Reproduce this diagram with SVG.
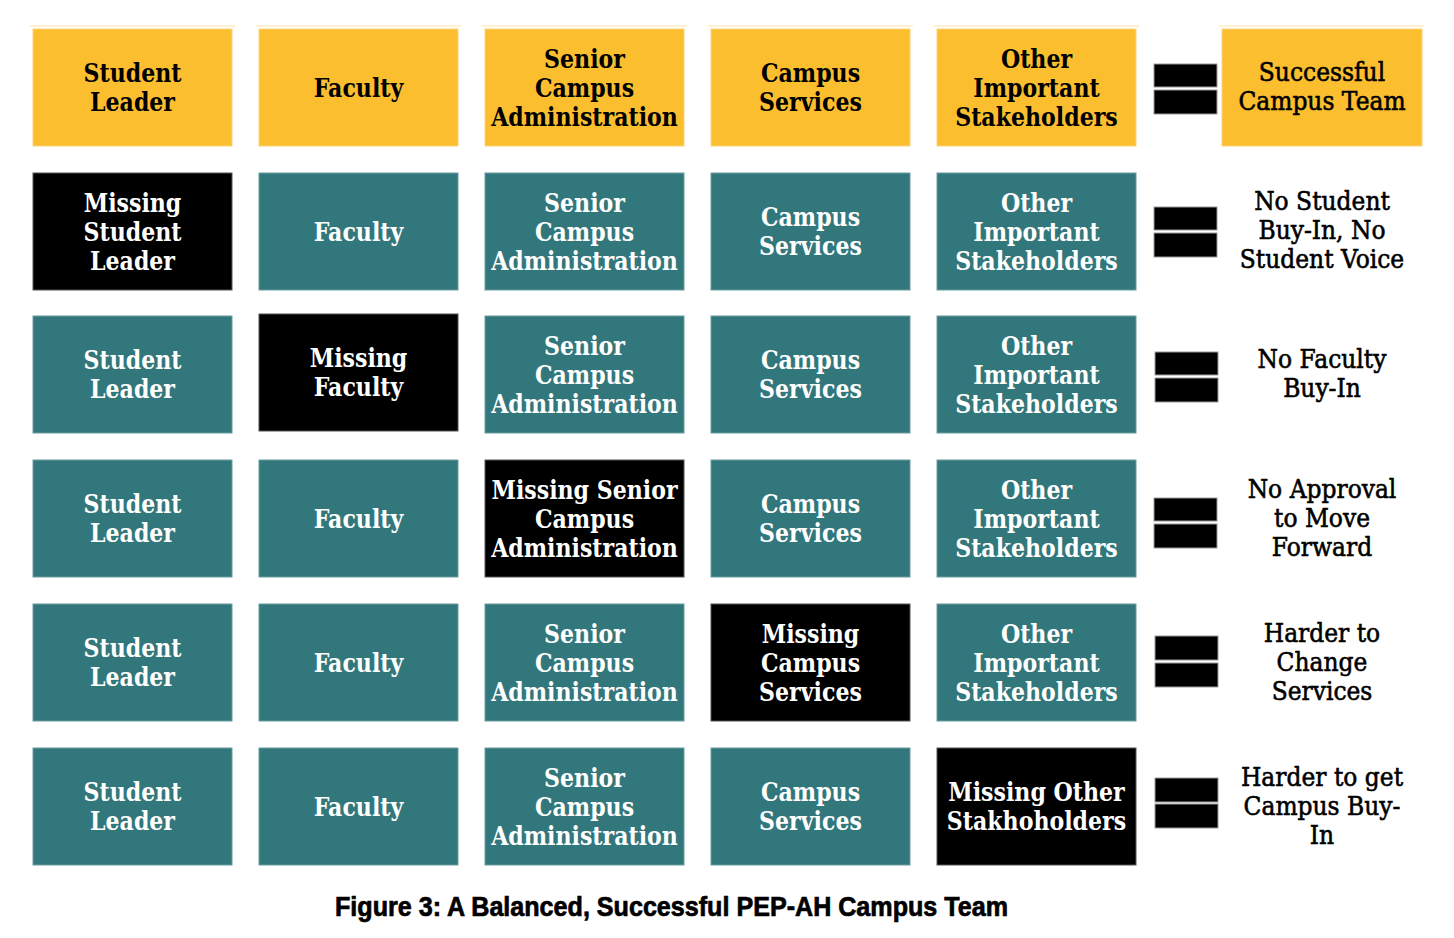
<svg xmlns="http://www.w3.org/2000/svg" width="1454" height="938" viewBox="0 0 1454 938">
<style>
.bg{fill:#ffffff}
.y{fill:#FBBE2F;stroke:#FCD47A;stroke-width:1}
.t{fill:#32777C;stroke:#6A9DA1;stroke-width:1}
.k{fill:#000000;stroke:#555555;stroke-width:1}
.eq{fill:#000000;stroke:#9a9a9a;stroke-width:1}
.topline{stroke:#FDF1D2;stroke-width:2}
.lb{font-family:"DejaVu Serif","Liberation Serif",serif;font-weight:bold;font-size:26px;text-anchor:middle}
.lbw{fill:#ffffff}
.lbk{fill:#000000}
.rl{font-family:"DejaVu Serif","Liberation Serif",serif;font-size:26px;text-anchor:middle;fill:#000000;stroke:#000000;stroke-width:0.6}
.cap{font-family:"Liberation Sans Narrow","Liberation Sans",Arial,sans-serif;font-weight:bold;font-size:27px;fill:#000000;stroke:#000000;stroke-width:0.7}
</style>
<rect class="bg" x="0" y="0" width="1454" height="938"/>
<g id="toplines">
<line class="topline" x1="30" y1="26" x2="235" y2="26"/>
<line class="topline" x1="256" y1="26" x2="461" y2="26"/>
<line class="topline" x1="482" y1="26" x2="687" y2="26"/>
<line class="topline" x1="708" y1="26" x2="913" y2="26"/>
<line class="topline" x1="934" y1="26" x2="1139" y2="26"/>
<line class="topline" x1="1219" y1="26" x2="1424" y2="26"/>
</g>

<!-- Row 1 -->
<g id="r1c1"><rect class="y" x="33" y="29" width="199" height="117"/>
<text class="lb lbk" transform="translate(132.5 0) scale(0.85 1)"><tspan x="0" y="82.5">Student</tspan><tspan x="0" y="111.5">Leader</tspan></text></g>
<g id="r1c2"><rect class="y" x="259" y="29" width="199" height="117"/>
<text class="lb lbk" transform="translate(358.5 0) scale(0.85 1)"><tspan x="0" y="97">Faculty</tspan></text></g>
<g id="r1c3"><rect class="y" x="485" y="29" width="199" height="117"/>
<text class="lb lbk" transform="translate(584.5 0) scale(0.85 1)"><tspan x="0" y="68">Senior</tspan><tspan x="0" y="97">Campus</tspan><tspan x="0" y="126">Administration</tspan></text></g>
<g id="r1c4"><rect class="y" x="711" y="29" width="199" height="117"/>
<text class="lb lbk" transform="translate(810.5 0) scale(0.85 1)"><tspan x="0" y="82.5">Campus</tspan><tspan x="0" y="111.5">Services</tspan></text></g>
<g id="r1c5"><rect class="y" x="937" y="29" width="199" height="117"/>
<text class="lb lbk" transform="translate(1036.5 0) scale(0.85 1)"><tspan x="0" y="68">Other</tspan><tspan x="0" y="97">Important</tspan><tspan x="0" y="126">Stakeholders</tspan></text></g>
<g id="r1res"><rect class="y" x="1222" y="29" width="200" height="117"/>
<text class="rl" transform="translate(1322 0) scale(0.9 1)"><tspan x="0" y="81">Successful</tspan><tspan x="0" y="110">Campus Team</tspan></text></g>

<!-- Row 2 -->
<g id="r2c1"><rect class="k" x="33" y="173" width="199" height="117"/>
<text class="lb lbw" transform="translate(132.5 0) scale(0.85 1)"><tspan x="0" y="212">Missing</tspan><tspan x="0" y="241">Student</tspan><tspan x="0" y="270">Leader</tspan></text></g>
<g id="r2c2"><rect class="t" x="259" y="173" width="199" height="117"/>
<text class="lb lbw" transform="translate(358.5 0) scale(0.85 1)"><tspan x="0" y="241">Faculty</tspan></text></g>
<g id="r2c3"><rect class="t" x="485" y="173" width="199" height="117"/>
<text class="lb lbw" transform="translate(584.5 0) scale(0.85 1)"><tspan x="0" y="212">Senior</tspan><tspan x="0" y="241">Campus</tspan><tspan x="0" y="270">Administration</tspan></text></g>
<g id="r2c4"><rect class="t" x="711" y="173" width="199" height="117"/>
<text class="lb lbw" transform="translate(810.5 0) scale(0.85 1)"><tspan x="0" y="226.5">Campus</tspan><tspan x="0" y="255.5">Services</tspan></text></g>
<g id="r2c5"><rect class="t" x="937" y="173" width="199" height="117"/>
<text class="lb lbw" transform="translate(1036.5 0) scale(0.85 1)"><tspan x="0" y="212">Other</tspan><tspan x="0" y="241">Important</tspan><tspan x="0" y="270">Stakeholders</tspan></text></g>
<g id="r2res">
<text class="rl" transform="translate(1322 0) scale(0.9 1)"><tspan x="0" y="210">No Student</tspan><tspan x="0" y="239">Buy-In, No</tspan><tspan x="0" y="268">Student Voice</tspan></text></g>

<!-- Row 3 -->
<g id="r3c1"><rect class="t" x="33" y="316" width="199" height="117"/>
<text class="lb lbw" transform="translate(132.5 0) scale(0.85 1)"><tspan x="0" y="369.5">Student</tspan><tspan x="0" y="398.5">Leader</tspan></text></g>
<g id="r3c2"><rect class="k" x="259" y="314" width="199" height="117"/>
<text class="lb lbw" transform="translate(358.5 0) scale(0.85 1)"><tspan x="0" y="367.5">Missing</tspan><tspan x="0" y="396.5">Faculty</tspan></text></g>
<g id="r3c3"><rect class="t" x="485" y="316" width="199" height="117"/>
<text class="lb lbw" transform="translate(584.5 0) scale(0.85 1)"><tspan x="0" y="355">Senior</tspan><tspan x="0" y="384">Campus</tspan><tspan x="0" y="413">Administration</tspan></text></g>
<g id="r3c4"><rect class="t" x="711" y="316" width="199" height="117"/>
<text class="lb lbw" transform="translate(810.5 0) scale(0.85 1)"><tspan x="0" y="369.5">Campus</tspan><tspan x="0" y="398.5">Services</tspan></text></g>
<g id="r3c5"><rect class="t" x="937" y="316" width="199" height="117"/>
<text class="lb lbw" transform="translate(1036.5 0) scale(0.85 1)"><tspan x="0" y="355">Other</tspan><tspan x="0" y="384">Important</tspan><tspan x="0" y="413">Stakeholders</tspan></text></g>
<g id="r3res">
<text class="rl" transform="translate(1322 0) scale(0.9 1)"><tspan x="0" y="368">No Faculty</tspan><tspan x="0" y="397">Buy-In</tspan></text></g>

<!-- Row 4 -->
<g id="r4c1"><rect class="t" x="33" y="460" width="199" height="117"/>
<text class="lb lbw" transform="translate(132.5 0) scale(0.85 1)"><tspan x="0" y="513.5">Student</tspan><tspan x="0" y="542.5">Leader</tspan></text></g>
<g id="r4c2"><rect class="t" x="259" y="460" width="199" height="117"/>
<text class="lb lbw" transform="translate(358.5 0) scale(0.85 1)"><tspan x="0" y="528">Faculty</tspan></text></g>
<g id="r4c3"><rect class="k" x="485" y="460" width="199" height="117"/>
<text class="lb lbw" transform="translate(584.5 0) scale(0.85 1)"><tspan x="0" y="499">Missing Senior</tspan><tspan x="0" y="528">Campus</tspan><tspan x="0" y="557">Administration</tspan></text></g>
<g id="r4c4"><rect class="t" x="711" y="460" width="199" height="117"/>
<text class="lb lbw" transform="translate(810.5 0) scale(0.85 1)"><tspan x="0" y="513.5">Campus</tspan><tspan x="0" y="542.5">Services</tspan></text></g>
<g id="r4c5"><rect class="t" x="937" y="460" width="199" height="117"/>
<text class="lb lbw" transform="translate(1036.5 0) scale(0.85 1)"><tspan x="0" y="499">Other</tspan><tspan x="0" y="528">Important</tspan><tspan x="0" y="557">Stakeholders</tspan></text></g>
<g id="r4res">
<text class="rl" transform="translate(1322 0) scale(0.9 1)"><tspan x="0" y="498">No Approval</tspan><tspan x="0" y="527">to Move</tspan><tspan x="0" y="556">Forward</tspan></text></g>

<!-- Row 5 -->
<g id="r5c1"><rect class="t" x="33" y="604" width="199" height="117"/>
<text class="lb lbw" transform="translate(132.5 0) scale(0.85 1)"><tspan x="0" y="657.5">Student</tspan><tspan x="0" y="686.5">Leader</tspan></text></g>
<g id="r5c2"><rect class="t" x="259" y="604" width="199" height="117"/>
<text class="lb lbw" transform="translate(358.5 0) scale(0.85 1)"><tspan x="0" y="672">Faculty</tspan></text></g>
<g id="r5c3"><rect class="t" x="485" y="604" width="199" height="117"/>
<text class="lb lbw" transform="translate(584.5 0) scale(0.85 1)"><tspan x="0" y="643">Senior</tspan><tspan x="0" y="672">Campus</tspan><tspan x="0" y="701">Administration</tspan></text></g>
<g id="r5c4"><rect class="k" x="711" y="604" width="199" height="117"/>
<text class="lb lbw" transform="translate(810.5 0) scale(0.85 1)"><tspan x="0" y="643">Missing</tspan><tspan x="0" y="672">Campus</tspan><tspan x="0" y="701">Services</tspan></text></g>
<g id="r5c5"><rect class="t" x="937" y="604" width="199" height="117"/>
<text class="lb lbw" transform="translate(1036.5 0) scale(0.85 1)"><tspan x="0" y="643">Other</tspan><tspan x="0" y="672">Important</tspan><tspan x="0" y="701">Stakeholders</tspan></text></g>
<g id="r5res">
<text class="rl" transform="translate(1322 0) scale(0.9 1)"><tspan x="0" y="642">Harder to</tspan><tspan x="0" y="671">Change</tspan><tspan x="0" y="700">Services</tspan></text></g>

<!-- Row 6 -->
<g id="r6c1"><rect class="t" x="33" y="748" width="199" height="117"/>
<text class="lb lbw" transform="translate(132.5 0) scale(0.85 1)"><tspan x="0" y="801.5">Student</tspan><tspan x="0" y="830.5">Leader</tspan></text></g>
<g id="r6c2"><rect class="t" x="259" y="748" width="199" height="117"/>
<text class="lb lbw" transform="translate(358.5 0) scale(0.85 1)"><tspan x="0" y="816">Faculty</tspan></text></g>
<g id="r6c3"><rect class="t" x="485" y="748" width="199" height="117"/>
<text class="lb lbw" transform="translate(584.5 0) scale(0.85 1)"><tspan x="0" y="787">Senior</tspan><tspan x="0" y="816">Campus</tspan><tspan x="0" y="845">Administration</tspan></text></g>
<g id="r6c4"><rect class="t" x="711" y="748" width="199" height="117"/>
<text class="lb lbw" transform="translate(810.5 0) scale(0.85 1)"><tspan x="0" y="801.5">Campus</tspan><tspan x="0" y="830.5">Services</tspan></text></g>
<g id="r6c5"><rect class="k" x="937" y="748" width="199" height="117"/>
<text class="lb lbw" transform="translate(1036.5 0) scale(0.85 1)"><tspan x="0" y="801.5">Missing Other</tspan><tspan x="0" y="830.5">Stakhoholders</tspan></text></g>
<g id="r6res">
<text class="rl" transform="translate(1322 0) scale(0.9 1)"><tspan x="0" y="786">Harder to get</tspan><tspan x="0" y="815">Campus Buy-</tspan><tspan x="0" y="844">In</tspan></text></g>

<g id="connectors">
<rect class="eq" x="1154" y="64" width="63" height="23"/><rect class="eq" x="1154" y="90" width="63" height="24"/>
<rect class="eq" x="1154" y="207" width="63" height="23"/><rect class="eq" x="1154" y="233" width="63" height="24"/>
<rect class="eq" x="1155" y="352" width="63" height="23"/><rect class="eq" x="1155" y="378" width="63" height="24"/>
<rect class="eq" x="1154" y="498" width="63" height="23"/><rect class="eq" x="1154" y="524" width="63" height="24"/>
<rect class="eq" x="1155" y="636" width="63" height="24"/><rect class="eq" x="1155" y="663" width="63" height="24"/>
<rect class="eq" x="1155" y="778" width="63" height="24"/><rect class="eq" x="1155" y="804" width="63" height="24"/>
</g>

<g id="caption">
<text class="cap" x="335" y="916" textLength="673" lengthAdjust="spacingAndGlyphs">Figure 3: A Balanced, Successful PEP-AH Campus Team</text>
</g>
</svg>
